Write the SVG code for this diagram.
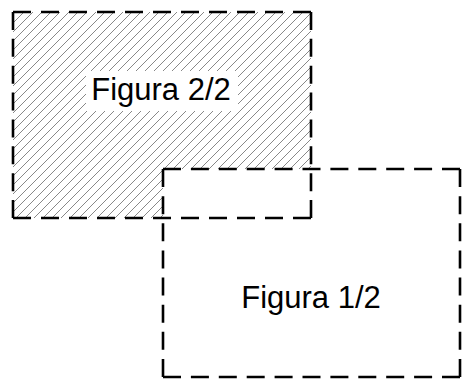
<svg xmlns="http://www.w3.org/2000/svg" width="469" height="382" viewBox="0 0 469 382">
  <style>
    .edge { fill: none; stroke: #000; stroke-width: 2.6; stroke-linecap: butt; }
    .label { font-family: "Liberation Sans", Arial, sans-serif; font-size: 31px; fill: #000; text-anchor: middle; }
  </style>
  <defs>
    <pattern id="hatch" patternUnits="userSpaceOnUse" width="9" height="9">
      <path d="M-1,1 L1,-1 M0,9 L9,0 M8,10 L10,8" stroke="#7a7a7a" stroke-width="0.9"/>
    </pattern>
  </defs>
  <rect width="469" height="382" fill="#fff"/>
  <g id="figura-2">
    <path d="M13,12 H311 V218 H13 Z M163,169 H311 V218 H163 Z M86,71 H238 V111 H86 Z" fill="url(#hatch)" fill-rule="evenodd"/>
    <path class="edge" d="M13,12 H311" stroke-dasharray="18 10"/>
    <path class="edge" d="M13,218 H311" stroke-dasharray="18 10"/>
    <path class="edge" d="M13,12 V218" stroke-dasharray="18 8.86"/>
    <path class="edge" d="M311,12 V218" stroke-dasharray="18 8.86"/>
    <text class="label" x="161" y="100">Figura 2/2</text>
  </g>
  <g id="figura-1">
    <path class="edge" d="M163,169 H460" stroke-dasharray="18 9.9"/>
    <path class="edge" d="M163,377 H460" stroke-dasharray="18 9.9"/>
    <path class="edge" d="M163,169 V377" stroke-dasharray="18 9.14"/>
    <path class="edge" d="M460,169 V377" stroke-dasharray="18 9.14"/>
    <text class="label" x="311" y="308">Figura 1/2</text>
  </g>
</svg>
